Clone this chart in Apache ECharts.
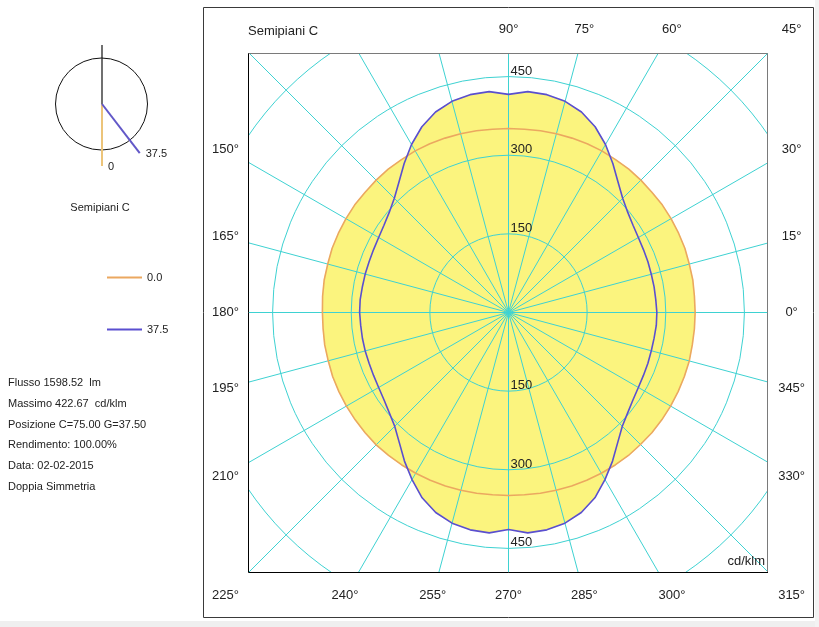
<!DOCTYPE html>
<html><head><meta charset="utf-8">
<script src="https://cdn.jsdelivr.net/npm/echarts@6/dist/echarts.min.js"></script>
<style>html,body{margin:0;padding:0;background:#fff}#c{width:819px;height:627px}</style>
</head><body><div id="c"></div>
<script>
// ---- data ----
const angles = [0,5,10,15,20,25,30,35,40,45,50,55,60,65,70,75,80,85,
  90,95,100,105,110,115,120,125,130,135,140,145,150,155,160,165,170,175,
  180,185,190,195,200,205,210,215,220,225,230,235,240,245,250,255,260,265,
  270,275,280,285,290,295,300,305,310,315,320,325,330,335,340,345,350,355];
const c0Values = [356,356,357,357,358,358,358,358,357,357,357,356,356,355,354,353,352,351,
  351,351,352,353,354,355,356,356,357,357,357,358,358,358,358,357,357,356,
  355,355,356,356,357,357,357,357,357,357,356,355,354,353,352,351,350,349,
  349,349,350,351,352,353,354,355,356,356,357,357,357,357,357,357,356,356];
const c375Values = [283,282,282,282,283,284,286,290,297,308,325,347,370,391,407,417,422,423,
  416,423,422,417,407,391,370,347,325,308,297,290,286,284,283,283,283,284,
  284,283,283,283,283,284,286,290,297,307,324,346,368,390,406,416,421,422,
  414,422,421,416,406,390,368,346,324,307,297,290,286,284,283,282,282,283];
const seriesNames = ['0.0', '37.5'];
const cPlanes = [0, 37.5];
const radiusTicks = [150, 300, 450, 600];
const radiusLabels = [150, 300, 450];
const spokeAngles = [0,15,30,45,60,75,90,105,120,135,150,165,180,195,210,225,240,255,270,285,300,315,330,345];
const angleLabels = [0,15,30,45,60,75,90,150,165,180,195,210,225,240,255,270,285,300,315,330,345];
const infoLines = ['Flusso 1598.52  lm','Massimo 422.67  cd/klm','Posizione C=75.00 G=37.50','Rendimento: 100.00%','Data: 02-02-2015','Doppia Simmetria'];
const titleText = 'Semipiani C';
const unitText = 'cd/klm';

// ---- styles ----
const GRID = '#3ed2d2', YEL = '#fbf47e', ORA = '#eba860', BLU = '#5a4fd0';
const FONT = 'Liberation Sans, Arial, sans-serif';
const AX = 495, LBL = 540;
const rad = d => d * Math.PI / 180;
const toXY = (vals) => angles.map((a, i) => [vals[i] * Math.cos(rad(a)), vals[i] * Math.sin(rad(a))]).concat([[vals[0], 0]]);
const curves = [c0Values, c375Values];

const chart = echarts.init(document.getElementById('c'), null, {renderer: 'canvas'});
const gL = 249, gT = 53, gS = 519;
const graphics = [
  {type:'rect', z:0, shape:{x:0,y:621,width:819,height:6}, style:{fill:'#efefef'}},
  {type:'rect', z:0, shape:{x:815,y:0,width:4,height:627}, style:{fill:'#f3f3f3'}},
  {type:'rect', z:100, shape:{x:203.5,y:7.5,width:610,height:610}, style:{fill:'none', stroke:'#3a3a3a', lineWidth:1}},
  {type:'polyline', z:100, shape:{points:[[gL-0.5,gT],[gL-0.5,gT+gS+0.5],[gL+gS,gT+gS+0.5]]}, style:{stroke:'#000', lineWidth:1, fill:'none'}},
  {type:'polyline', z:100, shape:{points:[[gL-0.5,gT+0.5],[gL+gS-0.5,gT+0.5],[gL+gS-0.5,gT+gS]]}, style:{stroke:'#7a7a7a', lineWidth:1, fill:'none'}},
  {type:'text', z:100, x:248, y:31, style:{text:titleText, font:'13px '+FONT, fill:'#222', textAlign:'left', textVerticalAlign:'middle', align:'left', verticalAlign:'middle'}},
  {type:'text', z:100, x:765, y:561, style:{text:unitText, font:'13px '+FONT, fill:'#222', textAlign:'right', textVerticalAlign:'middle', align:'right', verticalAlign:'middle'}},
  // small C-plane diagram
  {type:'circle', z:100, shape:{cx:101.5,cy:104,r:46}, style:{fill:'none', stroke:'#111', lineWidth:1}},
  {type:'line', z:100, shape:{x1:102,y1:45,x2:102,y2:104}, style:{stroke:'#111', lineWidth:1.2}},
  {type:'text', z:100, x:100, y:208, style:{text:titleText, font:'11px '+FONT, fill:'#222', textAlign:'center', textVerticalAlign:'middle', align:'center', verticalAlign:'middle'}}
];
const planeColors = [ '#ecc47a', '#6258c8'];
cPlanes.forEach((c, i) => {
  const L = 62;
  const x2 = 102 + L * Math.sin(rad(c)), y2 = 104 + L * Math.cos(rad(c));
  graphics.push({type:'line', z:101, shape:{x1:102,y1:104,x2:x2,y2:y2}, style:{stroke:planeColors[i], lineWidth:2}});
  graphics.push({type:'text', z:101, x:x2+6, y:y2+1, style:{text:String(c), font:'11px '+FONT, fill:'#222', textAlign:'left', textVerticalAlign:'middle', align:'left', verticalAlign:'middle'}});
});
infoLines.forEach((t, i) => {
  graphics.push({type:'text', z:100, x:8, y:383 + i * 20.8, style:{text:t, font:'11px '+FONT, fill:'#222', textAlign:'left', textVerticalAlign:'middle', align:'left', verticalAlign:'middle'}});
});

const option = {
  animation: false,
  backgroundColor: '#fff',
  grid: {left: gL, top: gT, width: gS, height: gS, show: false},
  xAxis: {type:'value', min:-AX, max:AX, show:false},
  yAxis: {type:'value', min:-AX, max:AX, show:false},
  legend: {
    data: seriesNames, orient:'vertical', left: 102, top: 267, itemGap: 41,
    icon: 'rect', itemWidth: 35, itemHeight: 2, selectedMode: false,
    textStyle: {fontSize: 11, color: '#222', fontFamily: FONT}
  },
  graphic: graphics,
  series: [
    { // yellow fill (union of both curves)
      type:'custom', name:'fill', coordinateSystem:'cartesian2d', silent:true, z:1, clip:true,
      data: curves.map((v, i) => [0, 0, i]),
      encode: {x:0, y:1},
      renderItem: (p, api) => {
        const vals = curves[api.value(2)];
        const pts = angles.map((a, i) => api.coord([vals[i] * Math.cos(rad(a)), vals[i] * Math.sin(rad(a))]));
        return {type:'polygon', shape:{points:pts}, style:{fill:YEL, stroke:YEL, lineWidth:0.5}};
      }
    },
    { // circles
      type:'custom', name:'rings', coordinateSystem:'cartesian2d', silent:true, z:2, clip:true,
      data: radiusTicks.map(r => [0, 0, r]), encode:{x:0, y:1},
      renderItem: (p, api) => {
        const c = api.coord([0, 0]); const r = api.size([api.value(2), 0])[0];
        return {type:'circle', shape:{cx:c[0], cy:c[1], r:r}, style:{fill:'none', stroke:GRID, lineWidth:1}};
      }
    },
    { // spokes
      type:'custom', name:'spokes', coordinateSystem:'cartesian2d', silent:true, z:2, clip:true,
      data: spokeAngles.map(a => [0, 0, a]), encode:{x:0, y:1},
      renderItem: (p, api) => {
        const a = rad(api.value(2));
        const c = api.coord([0, 0]); const e = api.coord([800 * Math.cos(a), 800 * Math.sin(a)]);
        return {type:'line', shape:{x1:c[0], y1:c[1], x2:e[0], y2:e[1]}, style:{stroke:GRID, lineWidth:1}};
      }
    },
    {
      type:'line', name: seriesNames[0], data: toXY(c0Values), showSymbol:false, z:3, silent:true,
      itemStyle:{color:ORA}, lineStyle:{color:ORA, width:1.6}
    },
    {
      type:'line', name: seriesNames[1], data: toXY(c375Values), showSymbol:false, z:4, silent:true,
      itemStyle:{color:BLU}, lineStyle:{color:BLU, width:1.6}
    },
    { // radius labels
      type:'custom', name:'rlabels', coordinateSystem:'cartesian2d', silent:true, z:5, clip:false,
      data: radiusLabels.flatMap(r => [[0, r, r], [0, -r, r]]), encode:{x:0, y:1},
      renderItem: (p, api) => {
        const pt = api.coord([api.value(0), api.value(1)]);
        return {type:'text', x: pt[0] + 2, y: pt[1] + 1,
          style:{text:String(api.value(2)), font:'13px '+FONT, fill:'#222', textAlign:'left', textVerticalAlign:'bottom', align:'left', verticalAlign:'bottom'}};
      }
    },
    { // angle labels around square
      type:'custom', name:'alabels', coordinateSystem:'cartesian2d', silent:true, z:5, clip:false,
      data: angleLabels.map(a => { const c = Math.cos(rad(a)), s = Math.sin(rad(a)); const m = Math.max(Math.abs(c), Math.abs(s)); return [LBL * c / m, LBL * s / m, a]; }),
      encode:{x:0, y:1},
      renderItem: (p, api) => {
        const pt = api.coord([api.value(0), api.value(1)]);
        return {type:'text', x: pt[0], y: pt[1],
          style:{text: api.value(2) + '°', font:'13px '+FONT, fill:'#222', textAlign:'center', textVerticalAlign:'middle', align:'center', verticalAlign:'middle'}};
      }
    }
  ]
};
chart.setOption(option);
</script></body></html>
